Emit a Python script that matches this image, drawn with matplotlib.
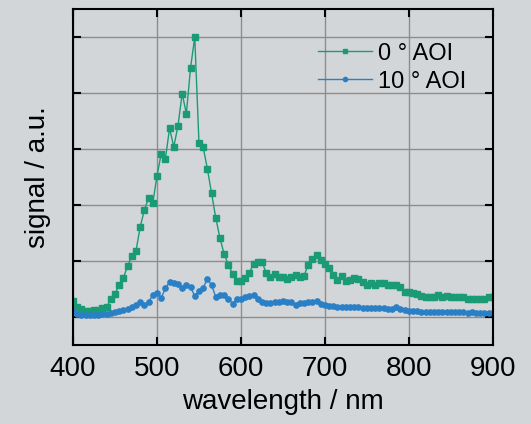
import numpy as np
import matplotlib
matplotlib.use("Agg")
import matplotlib.pyplot as plt

plt.rcParams['font.family'] = ['Liberation Sans', 'DejaVu Sans']

wavelength = np.arange(400, 905, 5)

# 0 deg AOI (green squares)
aoi0 = [0.29, 0.17, 0.14, 0.11, 0.11, 0.125, 0.13, 0.155, 0.18, 0.32,
        0.41, 0.58, 0.70, 0.91, 1.09, 1.18, 1.61, 1.91, 2.125, 2.03,
        2.52, 2.91, 2.82, 3.37, 3.04, 3.41, 3.99, 3.63, 4.45, 5.0,
        3.11, 3.03, 2.65, 2.21, 1.77, 1.41, 1.125, 0.93, 0.77, 0.64,
        0.64, 0.69, 0.79, 0.95, 0.99, 0.99, 0.79, 0.71, 0.76, 0.71,
        0.71, 0.67, 0.72, 0.75, 0.71, 0.73, 0.93, 1.03, 1.11, 1.01,
        0.94, 0.875, 0.75, 0.66, 0.73, 0.65, 0.66, 0.70, 0.68, 0.63,
        0.58, 0.60, 0.57, 0.60, 0.61, 0.58, 0.57, 0.57, 0.54, 0.45,
        0.44, 0.43, 0.41, 0.37, 0.36, 0.36, 0.36, 0.39, 0.35, 0.375,
        0.35, 0.35, 0.36, 0.36, 0.33, 0.32, 0.33, 0.33, 0.33, 0.35,
        0.36]

# 10 deg AOI (blue circles)
aoi10 = [0.11, 0.05, 0.036, 0.03, 0.03, 0.03, 0.036, 0.048, 0.06, 0.07,
         0.09, 0.11, 0.13, 0.15, 0.17, 0.21, 0.27, 0.21, 0.27, 0.39,
         0.42, 0.34, 0.51, 0.625, 0.61, 0.59, 0.51, 0.57, 0.53, 0.375,
         0.47, 0.52, 0.68, 0.57, 0.36, 0.39, 0.40, 0.33, 0.24, 0.32,
         0.32, 0.36, 0.38, 0.40, 0.32, 0.27, 0.255, 0.255, 0.26, 0.27,
         0.285, 0.27, 0.26, 0.22, 0.245, 0.25, 0.26, 0.27, 0.28, 0.23,
         0.22, 0.20, 0.196, 0.18, 0.17, 0.18, 0.17, 0.17, 0.17, 0.16,
         0.16, 0.16, 0.16, 0.16, 0.16, 0.15, 0.14, 0.17, 0.14, 0.125,
         0.11, 0.11, 0.10, 0.095, 0.095, 0.085, 0.09, 0.09, 0.09, 0.085,
         0.09, 0.085, 0.09, 0.085, 0.08, 0.085, 0.08, 0.08, 0.08, 0.08,
         0.08]

bg = '#d3d6d9'
fig = plt.figure(figsize=(5.31, 4.24), dpi=100, facecolor=bg)
ax = fig.add_axes([0.1375, 0.1863, 0.7906, 0.7925], facecolor=bg)

ax.plot(wavelength, aoi0, color='#1b9a76', marker='s', markersize=3.8,
        linewidth=1.0, label='0 ° AOI')
ax.plot(wavelength, aoi10, color='#2a80c6', marker='o', markersize=3.8,
        linewidth=1.0, label='10 ° AOI')

ax.set_xlim(400, 900)
ax.set_ylim(-0.5, 5.5)
ax.set_xticks([400, 500, 600, 700, 800, 900])
ax.set_yticks([0, 1, 2, 3, 4, 5])
ax.set_yticklabels([])
ax.grid(True, color='#8c8c8c', linewidth=1.0)
ax.set_axisbelow(True)
ax.tick_params(direction='in', length=6, width=1.5, top=True, right=True,
               labelsize=20, pad=8)
for s in ax.spines.values():
    s.set_linewidth(1.5)

ax.set_xlabel('wavelength / nm', fontsize=20, labelpad=5)
ax.set_ylabel('signal / a.u.', fontsize=20, labelpad=8)

ax.legend(loc='upper right', frameon=False, fontsize=17, handlelength=2.3,
          handletextpad=0.25, labelspacing=0.25, markerscale=0.8,
          bbox_to_anchor=(0.96, 0.928), borderaxespad=0)

fig.savefig('out.png', dpi=100, facecolor=bg)
